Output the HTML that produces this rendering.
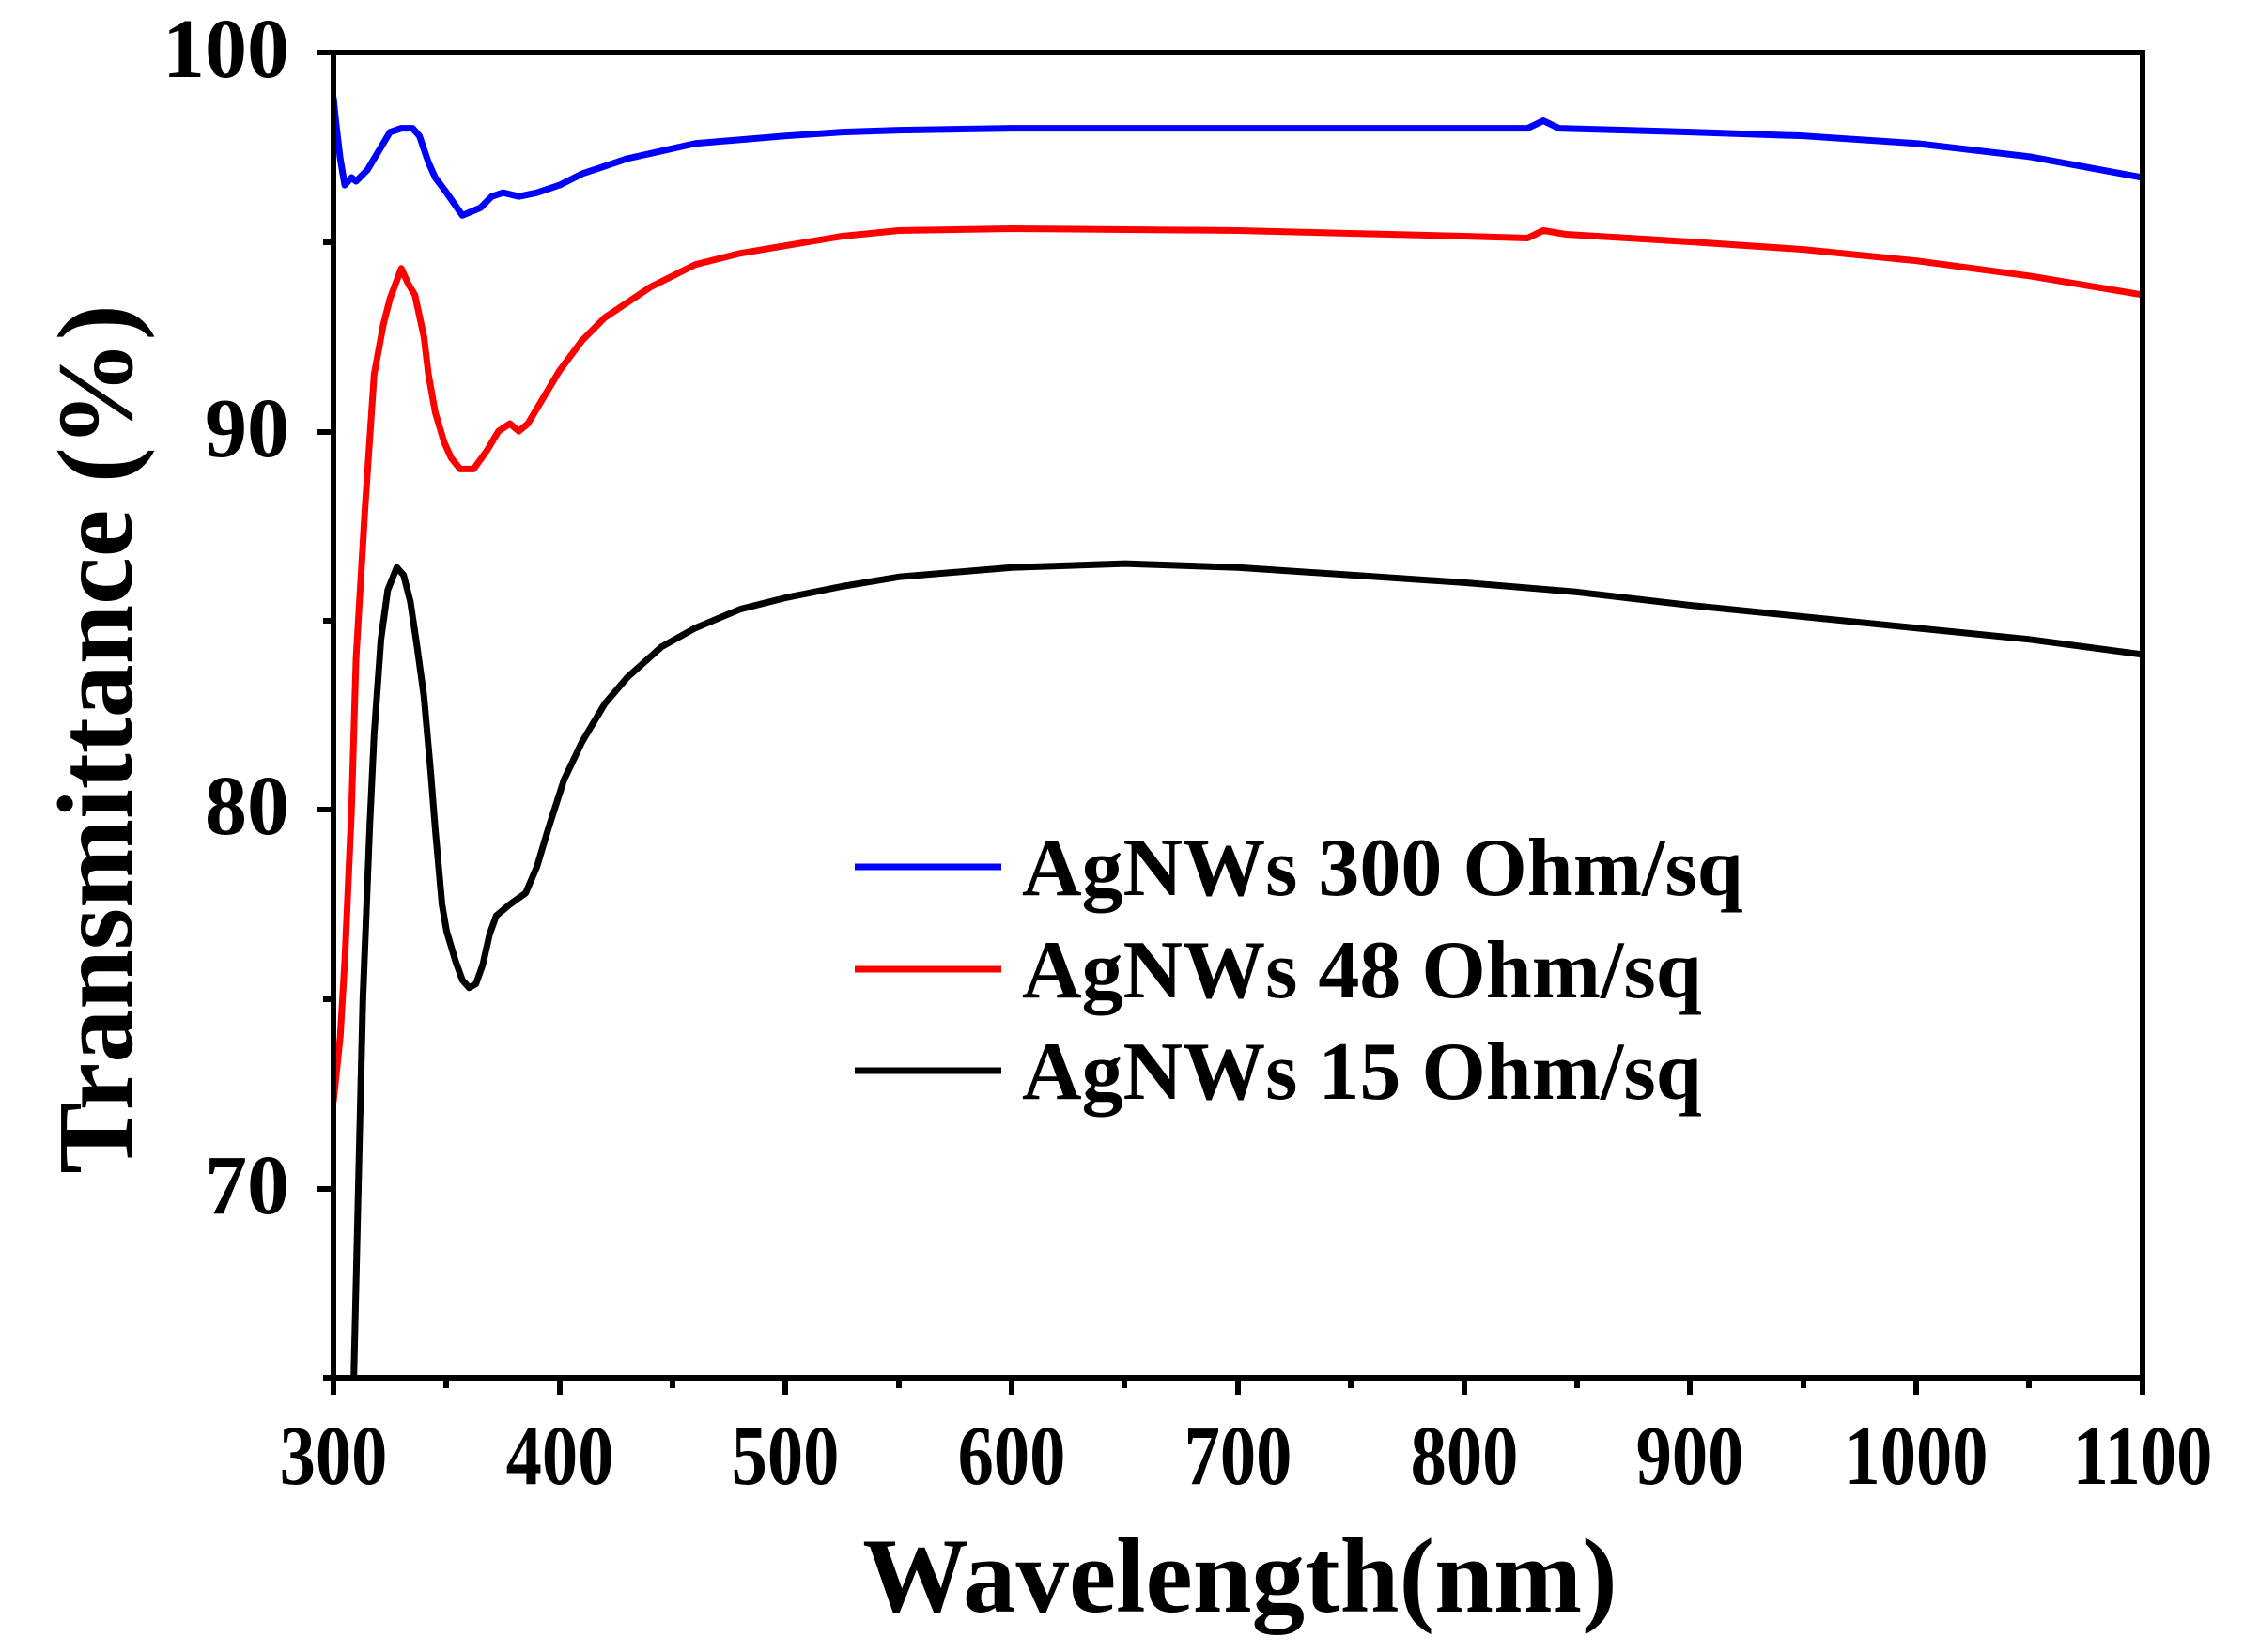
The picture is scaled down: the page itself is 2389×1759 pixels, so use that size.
<!DOCTYPE html>
<html><head><meta charset="utf-8"><style>
html,body{margin:0;padding:0;background:#fff;}
svg text{font-family:"Liberation Serif",serif;font-weight:bold;fill:#000;}
</style></head><body>
<svg width="2389" height="1754" viewBox="0 0 2389 1754" xmlns="http://www.w3.org/2000/svg">
<defs><clipPath id="c"><rect x="355" y="56" width="1926" height="1411"/></clipPath></defs>
<g clip-path="url(#c)">
<g transform="matrix(2.4075 0 0 -40.31 -367.25 4087)" fill="none" stroke-linejoin="round" stroke-linecap="round">
<polyline vector-effect="non-scaling-stroke" stroke="#0000ff" stroke-width="7" points="300,98.8 301,98.2 303,97.2 305,96.5 308,96.7 310,96.6 315,96.9 320,97.4 325,97.9 330,98.0 335,98.0 338,97.8 342,97.1 345,96.7 350,96.3 357,95.7 365,95.9 370,96.2 375,96.3 382,96.2 390,96.3 400,96.5 410,96.8 420,97.0 430,97.2 445,97.4 460,97.6 480,97.7 500,97.8 525,97.9 550,97.95 600,98.0 700,98.0 800,98.0 828,98.0 835,98.2 842,98.0 900,97.9 950,97.8 1000,97.6 1050,97.25 1100,96.7"/>
<polyline vector-effect="non-scaling-stroke" stroke="#ff0000" stroke-width="7" points="300,72.3 303,74 305,76 308,80 310,84 314,88 318,91.5 322,92.8 325,93.5 330,94.3 333,93.9 336,93.6 340,92.5 342,91.5 345,90.5 349,89.7 352,89.3 356,89.0 362,89.0 368,89.5 373,90.0 378,90.2 382,90.0 386,90.2 392,90.8 400,91.6 410,92.4 420,93.0 440,93.8 460,94.4 480,94.7 500,94.9 525,95.15 550,95.3 600,95.35 700,95.3 800,95.15 828,95.1 835,95.3 845,95.2 900,95.0 950,94.8 1000,94.5 1050,94.1 1100,93.6"/>
<polyline vector-effect="non-scaling-stroke" stroke="#000000" stroke-width="7" points="308,63 309,65 311,70 313,75 316,79.5 318,82 321,84.5 324,85.8 328,86.4 331,86.2 334,85.5 337,84.3 340,83 343,81 345,79.5 348,77.5 350,76.8 354,76.0 357,75.5 360,75.3 363,75.4 366,75.9 369,76.7 372,77.2 378,77.5 385,77.8 390,78.5 395,79.5 402,80.8 410,81.8 420,82.8 430,83.5 445,84.3 460,84.8 480,85.3 500,85.6 525,85.9 550,86.15 600,86.4 650,86.5 700,86.4 750,86.2 800,86.0 850,85.75 900,85.4 950,85.1 1000,84.8 1050,84.5 1100,84.1"/>
</g></g>
<g stroke="#000" stroke-width="6" fill="none">
<rect x="355" y="56" width="1926" height="1411"/>
<path d="M355,56h-18M355,460h-18M355,862h-18M355,1266h-18M355,258h-11M355,661h-11M355,1064h-11M355,1467h-11"/>
<path d="M355,1467v18M596,1467v18M836,1467v18M1077,1467v18M1318,1467v18M1559,1467v18M1799,1467v18M2040,1467v18M2281,1467v18M475,1467v11M716,1467v11M957,1467v11M1197,1467v11M1438,1467v11M1679,1467v11M1920,1467v11M2160,1467v11"/>
</g>
<g font-size="90" text-anchor="end">
<text x="308" y="82">100</text><text x="308" y="486">90</text><text x="308" y="888">80</text><text x="308" y="1292">70</text>
</g>
<g font-size="90" text-anchor="middle">
<text transform="translate(355,1580) scale(0.85,1)">300</text><text transform="translate(596,1580) scale(0.85,1)">400</text><text transform="translate(836,1580) scale(0.85,1)">500</text><text transform="translate(1077,1580) scale(0.85,1)">600</text><text transform="translate(1318,1580) scale(0.85,1)">700</text><text transform="translate(1559,1580) scale(0.85,1)">800</text><text transform="translate(1799,1580) scale(0.85,1)">900</text><text transform="translate(2040,1580) scale(0.85,1)">1000</text><text transform="translate(2281,1580) scale(0.85,1)">1100</text>
</g>
<text x="1320" y="1716" font-size="113" text-anchor="middle">Wavelength(nm)</text>
<text transform="translate(140,787) rotate(-90)" font-size="114" text-anchor="middle">Transmittance (%)</text>
<g stroke-width="7">
<line x1="910" y1="923" x2="1066" y2="923" stroke="#0000ff"/>
<line x1="910" y1="1032" x2="1066" y2="1032" stroke="#ff0000"/>
<line x1="910" y1="1140" x2="1066" y2="1140" stroke="#000"/>
</g>
<g font-size="88">
<text x="1088" y="953">AgNWs 300 Ohm/sq</text>
<text x="1088" y="1062">AgNWs 48 Ohm/sq</text>
<text x="1088" y="1170">AgNWs 15 Ohm/sq</text>
</g>
</svg>
</body></html>
